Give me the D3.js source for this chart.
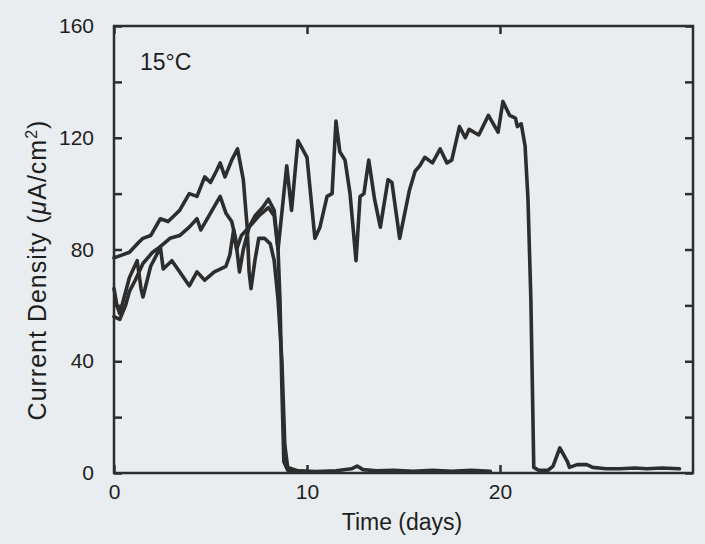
<!DOCTYPE html>
<html>
<head>
<meta charset="utf-8">
<script src="https://cdn.jsdelivr.net/npm/d3@7"></script>
<style>
  body { margin: 0; background: #e9edf0; }
  svg { display: block; }
</style>
</head>
<body>
<svg></svg>
<script>
/* data: [time (days), current density (uA/cm2)] */
var seriesA = [[0,77],[0.4,78],[0.8,79],[1.2,82],[1.5,84],[1.9,85],[2.4,91],[2.8,90],[3.1,92],[3.4,94],
  [3.9,100],[4.3,99],[4.7,106],[5.0,104],[5.3,108],[5.5,111],[5.75,106],[6.1,112],[6.4,116],[6.7,105],
  [6.9,88],[7.0,72],[7.1,66],[7.3,76],[7.5,84],[7.8,84],[8.1,82],[8.3,76],[8.5,62],[8.7,40],[8.85,10],
  [9.0,2],[9.5,0.8],[10.5,0.5],[11.5,0.8],[12.3,1.5],[12.6,2.5],[12.9,1.2],[13.6,0.8],[14.5,1],
  [15.5,0.6],[16.5,1],[17.5,0.6],[18.5,1],[19.5,0.6]];

var seriesB = [[0,56],[0.3,55],[0.6,60],[0.8,65],[1.1,69],[1.5,75],[2.0,79],[2.4,81],[2.9,84],[3.4,85],
  [3.9,88],[4.3,91],[4.5,87],[5.0,93],[5.5,99],[5.8,93],[6.1,90],[6.3,84],[6.5,72],[6.7,80],
  [7.0,88],[7.3,92],[7.7,95],[8.0,98],[8.3,94],[8.5,80],[8.6,62],[8.7,30],[8.8,4],[9.0,1],[10,0.5]];

var seriesC = [[0,66],[0.15,60],[0.3,57],[0.8,70],[1.2,76],[1.4,66],[1.5,63],[1.9,74],[2.2,78],[2.4,81],
  [2.55,73],[3.0,76],[3.4,72],[3.9,67],[4.3,72],[4.7,69],[5.2,72],[5.5,73],[5.8,74],[6.0,78],
  [6.2,87],[6.35,80],[6.6,85],[7.0,88],[7.5,92],[8.0,95],[8.3,92],[8.5,80],[8.95,110],[9.2,94],
  [9.53,119],[10.0,113],[10.41,84],[10.67,88],[11.04,99],[11.3,100],[11.5,126],[11.7,115],[11.97,112],
  [12.23,100],[12.54,76],[12.75,99],[12.95,100],[13.2,112],[13.5,98],[13.8,88],[14.2,105],[14.4,104],
  [14.8,84],[15.3,101],[15.6,108],[15.85,110],[16.1,113],[16.5,111],[16.9,116],[17.25,111],[17.5,112],
  [17.9,124],[18.2,120],[18.4,123],[18.9,121],[19.4,128],[19.9,122],[20.15,133],[20.5,128],[20.8,127],
  [20.9,124],[21.1,125],[21.3,117],[21.45,98],[21.6,62],[21.75,2],[22.0,1],[22.5,1],[22.75,2.5],
  [23.1,9],[23.5,4],[23.6,2],[24.0,3],[24.5,3],[24.8,2],[25.5,1.5],[26.2,1.5],[27.0,1.8],[27.6,1.5],
  [28.4,1.8],[29.3,1.5]];

var xTicks = [0, 10, 20];
var yTicks = [0, 40, 80, 120, 160];
var yMinorTicks = [20, 60, 100, 140];

var svgWidth = 705;
var svgHeight = 544;
var margin = {top: 26, right: 12, bottom: 71, left: 114};
var width = svgWidth - margin.left - margin.right;
var height = svgHeight - margin.top - margin.bottom;
var ink = '#2d2d2d';
var font = '"Liberation Sans", Arial, Helvetica, sans-serif';

var svg = d3.select('svg')
    .attr('width', svgWidth)
    .attr('height', svgHeight)
    .style('font-family', font);

svg.append('rect')
    .attr('width', svgWidth)
    .attr('height', svgHeight)
    .attr('fill', '#e9edf0');

var g = svg.append('g')
    .attr('transform', translate(margin.left, margin.top));

var scale = {};
scale.x = d3.scaleLinear().domain([0, 30]).range([0, width]);
scale.y = d3.scaleLinear().domain([0, 160]).range([height, 0]);

/* axes, ticks pointing inward on all four sides */
var allY = yTicks.concat(yMinorTicks);

g.append('g')
    .attr('transform', translate(0, height))
    .call(d3.axisBottom(scale.x).tickValues(xTicks).tickSize(-8).tickPadding(11).tickFormat(d3.format('d')))
    .call(styleAxis);

g.append('g')
    .call(d3.axisTop(scale.x).tickValues(xTicks).tickSize(-8).tickFormat(''))
    .call(styleAxis);

g.append('g')
    .call(d3.axisLeft(scale.y).tickValues(allY).tickSize(-8).tickPadding(20)
      .tickFormat(function(d){ return yTicks.indexOf(d) >= 0 ? d : ''; }))
    .call(styleAxis);

g.append('g')
    .attr('transform', translate(width, 0))
    .call(d3.axisRight(scale.y).tickValues(allY).tickSize(-8).tickFormat(''))
    .call(styleAxis);

g.append('rect')
    .attr('width', width)
    .attr('height', height)
    .attr('fill', 'none')
    .attr('stroke', ink)
    .attr('stroke-width', 2.5);

function styleAxis(sel){
  sel.select('.domain').remove();
  sel.selectAll('line').attr('stroke', ink).attr('stroke-width', 2.5);
  sel.selectAll('text')
      .attr('fill', '#1e1e1e')
      .style('font-family', font)
      .style('font-size', '21px');
}

/* curves */
var line = d3.line()
    .x(function(d){ return scale.x(d[0]); })
    .y(function(d){ return scale.y(d[1]); });

g.selectAll('path.series')
    .data([seriesA, seriesB, seriesC])
    .enter()
    .append('path')
    .attr('class', 'series')
    .attr('d', line)
    .attr('fill', 'none')
    .attr('stroke', ink)
    .attr('stroke-width', 3.6)
    .attr('stroke-linejoin', 'round')
    .attr('stroke-linecap', 'round');

/* labels */
g.append('text')
    .attr('x', 26)
    .attr('y', 44)
    .attr('fill', '#1e1e1e')
    .style('font-size', '23px')
    .text('15°C');

svg.append('text')
    .attr('x', 402)
    .attr('y', 530)
    .attr('text-anchor', 'middle')
    .attr('fill', '#1e1e1e')
    .style('font-size', '23px')
    .text('Time (days)');

var yLabel = svg.append('text')
    .attr('transform', 'translate(46,270) rotate(-90)')
    .attr('text-anchor', 'middle')
    .attr('fill', '#1e1e1e')
    .style('font-size', '25px')
    .style('letter-spacing', '1px');
yLabel.append('tspan').text('Current Density (');
yLabel.append('tspan').style('font-style', 'italic').text('μ');
yLabel.append('tspan').text('A/cm');
yLabel.append('tspan').attr('dy', -9).style('font-size', '16px').text('2');
yLabel.append('tspan').attr('dy', 9).text(')');

function translate(x, y) {
  return 'translate(' + x + ',' + y + ')';
}
</script>
</body>
</html>
